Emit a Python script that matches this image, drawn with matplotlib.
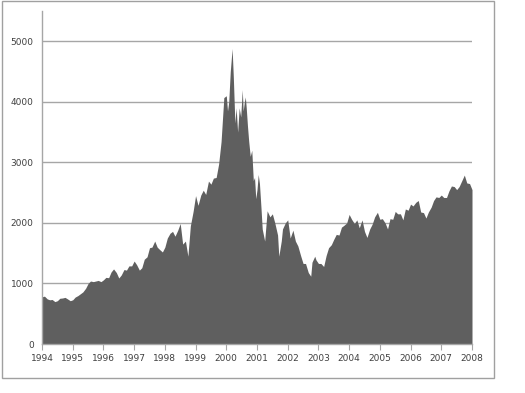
import numpy as np
import matplotlib.pyplot as plt
from matplotlib.patches import Rectangle

# index level, roughly month by month (extra points around 2000-2001)
dates = [
    1994.00, 1994.08, 1994.17, 1994.25, 1994.33, 1994.42, 1994.50, 1994.58, 1994.67, 1994.75, 1994.83, 1994.92,
    1995.00, 1995.08, 1995.17, 1995.25, 1995.33, 1995.42, 1995.50, 1995.58, 1995.67, 1995.75, 1995.83, 1995.92,
    1996.00, 1996.08, 1996.17, 1996.25, 1996.33, 1996.42, 1996.50, 1996.58, 1996.67, 1996.75, 1996.83, 1996.92,
    1997.00, 1997.08, 1997.17, 1997.25, 1997.33, 1997.42, 1997.50, 1997.58, 1997.67, 1997.75, 1997.83, 1997.92,
    1998.00, 1998.08, 1998.17, 1998.25, 1998.33, 1998.42, 1998.50, 1998.58, 1998.67, 1998.75, 1998.83, 1998.92,
    1999.00, 1999.08, 1999.17, 1999.25, 1999.33, 1999.42, 1999.50, 1999.58, 1999.67, 1999.75, 1999.83, 1999.92,
    2000.00, 2000.04, 2000.08, 2000.13, 2000.19, 2000.23, 2000.28, 2000.32, 2000.37, 2000.42, 2000.47, 2000.52,
    2000.55, 2000.59, 2000.62, 2000.65, 2000.69, 2000.73, 2000.78, 2000.83, 2000.88, 2000.92, 2000.96,
    2001.00, 2001.04, 2001.08, 2001.13, 2001.17, 2001.25, 2001.33, 2001.42, 2001.50, 2001.58, 2001.67, 2001.71,
    2001.79, 2001.83, 2001.92,
    2002.00, 2002.08, 2002.17, 2002.25, 2002.33, 2002.42, 2002.50, 2002.58, 2002.67, 2002.75, 2002.79, 2002.88, 2002.92,
    2003.00, 2003.08, 2003.17, 2003.25, 2003.33, 2003.42, 2003.50, 2003.58, 2003.67, 2003.75, 2003.83, 2003.92,
    2004.00, 2004.08, 2004.17, 2004.25, 2004.33, 2004.42, 2004.50, 2004.58, 2004.67, 2004.75, 2004.83, 2004.92,
    2005.00, 2005.08, 2005.17, 2005.25, 2005.33, 2005.42, 2005.50, 2005.58, 2005.67, 2005.75, 2005.83, 2005.92,
    2006.00, 2006.08, 2006.17, 2006.25, 2006.33, 2006.42, 2006.50, 2006.58, 2006.67, 2006.75, 2006.83, 2006.92,
    2007.00, 2007.08, 2007.17, 2007.25, 2007.33, 2007.42, 2007.50, 2007.58, 2007.67, 2007.75, 2007.83, 2007.92,
    2008.00,
]
index_level = [
    780, 790, 745, 730, 735, 700, 715, 755, 760, 770, 745, 715,
    730, 775, 800, 830, 860, 920, 1000, 1040, 1030, 1040, 1050, 1030,
    1060, 1100, 1095, 1190, 1240, 1180, 1090, 1140, 1230, 1220, 1290, 1290,
    1370, 1310, 1220, 1260, 1400, 1440, 1590, 1600, 1700, 1600, 1560, 1520,
    1600, 1750, 1830, 1860, 1780, 1880, 1990, 1650, 1700, 1450, 1950, 2190,
    2450, 2290, 2460, 2540, 2470, 2690, 2640, 2740, 2750, 2970, 3340, 4070,
    4100, 3850, 4000, 4500, 4880, 4400, 3650, 3900, 3500, 3900, 3750, 4200,
    3850, 4000, 4080, 3900, 3600, 3350, 3100, 3200, 2700, 2750, 2400,
    2550, 2800, 2650, 2250, 1900, 1700, 2200, 2100, 2150, 2000, 1800, 1450,
    1700, 1900, 2000,
    2050, 1750, 1880, 1700, 1620, 1460, 1330, 1330, 1180, 1120, 1350, 1450, 1390,
    1330, 1330, 1280, 1460, 1590, 1640, 1730, 1810, 1800, 1930, 1960, 2000,
    2140, 2060, 1990, 2050, 1920, 2050, 1860, 1760, 1900, 1980, 2100, 2175,
    2060, 2070, 2000, 1900, 2070, 2060, 2190, 2150, 2150, 2050, 2230, 2210,
    2310, 2280, 2340, 2370, 2180, 2170, 2080, 2180, 2260, 2370, 2430, 2420,
    2460, 2420, 2420, 2530, 2610, 2600, 2550, 2600, 2700, 2790, 2660, 2650,
    2550,
]
year_ticks = list(range(1994, 2009))
level_ticks = [0, 1000, 2000, 3000, 4000, 5000]

fig = plt.figure(figsize=(5.25, 3.93), dpi=100)
# outer chart frame
fig.patches.append(Rectangle((2 / 525, 15 / 393), 492 / 525, 377 / 393, transform=fig.transFigure,
                             fill=False, edgecolor='#a0a0a0', linewidth=1))

ax = fig.add_axes([42 / 525, 1 - 344 / 393, 430 / 525, 333 / 393])
ax.fill_between(dates, index_level, 0, color='#5f5f5f', linewidth=0)

ax.set_xlim(1994, 2008)
ax.set_ylim(0, 5500)
ax.set_xticks(year_ticks)
ax.set_yticks(level_ticks)
for lvl in level_ticks[1:]:
    ax.axhline(lvl, color='#a6a6a6', linewidth=1, zorder=0)

for side in ['top', 'right']:
    ax.spines[side].set_visible(False)
for side in ['left', 'bottom']:
    ax.spines[side].set_color('#a6a6a6')
    ax.spines[side].set_linewidth(1)

ax.tick_params(axis='x', direction='out', length=4, color='#a6a6a6', labelsize=6.5,
               labelcolor='#404040', pad=3)
ax.tick_params(axis='y', length=0, labelsize=6.5, labelcolor='#404040', pad=6)

plt.savefig('out.png', dpi=100)
